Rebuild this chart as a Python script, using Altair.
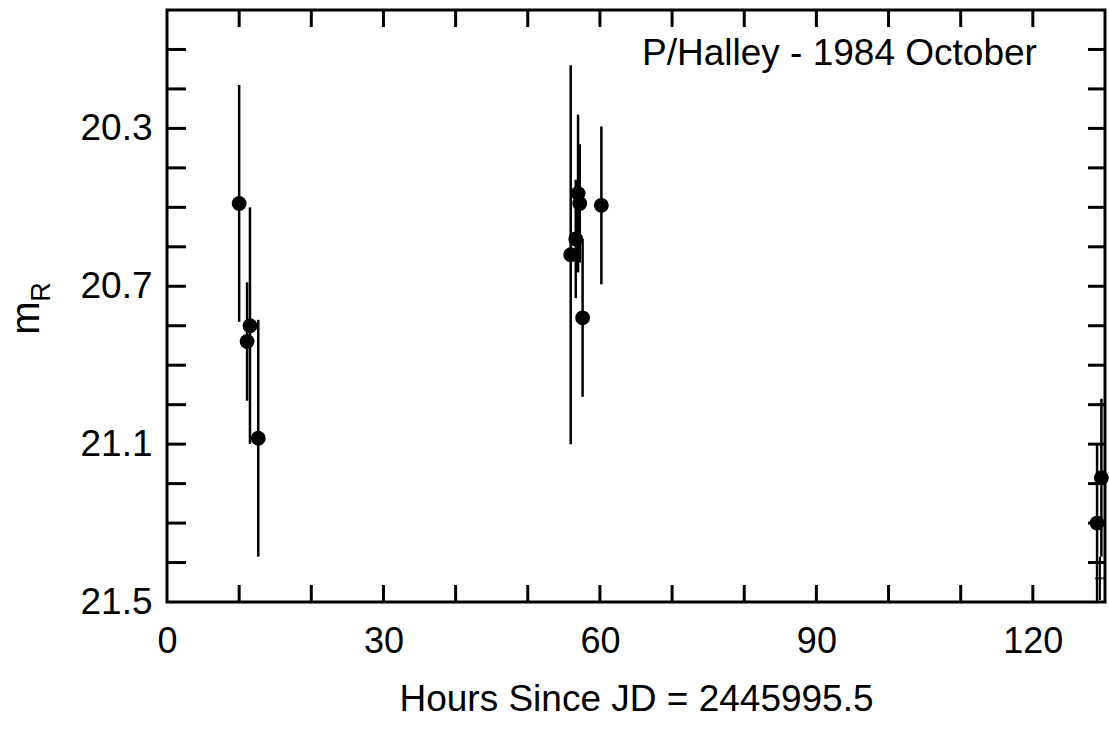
import altair as alt
import pandas as pd

# Data
hours = [10.0, 11.1, 11.5, 12.65, 55.95, 56.65, 56.97, 57.2, 57.6, 60.2, 128.9, 129.5]
mag = [20.49, 20.84, 20.80, 21.085, 20.62, 20.58, 20.465, 20.49, 20.78, 20.495, 21.30, 21.185]
err = [0.30, 0.15, 0.30, 0.30, 0.48, 0.15, 0.20, 0.15, 0.20, 0.20, 0.20, 0.20]

# an extra short error bar (no dot) at the right edge
extra_hours = [129.3]
extra_mag = [21.44]
extra_err = [0.055]

x_labels = [0, 30, 60, 90, 120]
y_labels = [20.3, 20.7, 21.1, 21.5]
x_ticks = [10, 20, 30, 40, 50, 60, 70, 80, 90, 100, 110, 120]
y_ticks = [20.1, 20.2, 20.3, 20.4, 20.5, 20.6, 20.7, 20.8, 20.9, 21.0, 21.1, 21.2, 21.3, 21.4]

W, H = 938, 592
FONT = "Liberation Sans"

df = pd.DataFrame({"h": hours, "m": mag, "e": err})
df["lo"] = df["m"] - df["e"]
df["hi"] = df["m"] + df["e"]
dfx = pd.DataFrame({"h": extra_hours, "m": extra_mag, "e": extra_err})
dfx["lo"] = dfx["m"] - dfx["e"]
dfx["hi"] = dfx["m"] + dfx["e"]

xscale = alt.Scale(domain=[0, 130], nice=False, zero=False)
yscale = alt.Scale(domain=[20.0, 21.5], reverse=True, nice=False, zero=False)

xaxis = alt.Axis(values=x_labels, title="Hours Since JD = 2445995.5", ticks=False, domain=False,
                 grid=False, labelFontSize=36, labelFont=FONT, labelColor="black",
                 labelPadding=22, labelFlush=False, labelOverlap=False,
                 titleFontSize=37, titleFont=FONT, titleFontWeight="normal", titleColor="black",
                 titlePadding=22)
yaxis = alt.Axis(values=y_labels, title=None, format=".1f", ticks=False, domain=False, grid=False,
                 labelFontSize=37, labelFont=FONT, labelColor="black", labelPadding=15,
                 labelFlush=False, labelOverlap=False)

bars = alt.Chart(df).mark_rule(color="black", strokeWidth=2.5).encode(
    x=alt.X("h:Q", scale=xscale, axis=xaxis),
    y=alt.Y("lo:Q", scale=yscale, axis=yaxis),
    y2="hi:Q",
)
bars_x = alt.Chart(dfx).mark_rule(color="black", strokeWidth=2).encode(
    x=alt.X("h:Q", scale=xscale),
    y=alt.Y("lo:Q", scale=yscale),
    y2="hi:Q",
)
cross_x = alt.Chart(dfx).mark_tick(color="black", thickness=2, size=10, orient="horizontal").encode(
    x=alt.X("h:Q", scale=xscale),
    y=alt.Y("m:Q", scale=yscale),
)
pts = alt.Chart(df).mark_circle(color="black", opacity=1, size=220).encode(
    x=alt.X("h:Q", scale=xscale),
    y=alt.Y("m:Q", scale=yscale),
)

xt = pd.DataFrame({"t": x_ticks})
yt = pd.DataFrame({"t": y_ticks})
tick_style = dict(color="black", strokeWidth=3)
xt_bottom = alt.Chart(xt).mark_rule(**tick_style).encode(
    x=alt.X("t:Q", scale=xscale), y=alt.value(H), y2=alt.value(H - 17))
xt_top = alt.Chart(xt).mark_rule(**tick_style).encode(
    x=alt.X("t:Q", scale=xscale), y=alt.value(0), y2=alt.value(17))
yt_left = alt.Chart(yt).mark_rule(**tick_style).encode(
    y=alt.Y("t:Q", scale=yscale), x=alt.value(0), x2=alt.value(19))
yt_right = alt.Chart(yt).mark_rule(**tick_style).encode(
    y=alt.Y("t:Q", scale=yscale), x=alt.value(W), x2=alt.value(W - 17))

title = alt.Chart(pd.DataFrame({"t": ["P/Halley - 1984 October"]})).mark_text(
    font=FONT, fontSize=37, align="left", baseline="alphabetic", color="black"
).encode(text="t:N", x=alt.value(475), y=alt.value(55))

m_lab = alt.Chart(pd.DataFrame({"t": ["m"]})).mark_text(
    font=FONT, fontSize=40, angle=270, align="center", baseline="middle", color="black"
).encode(text="t:N", x=alt.value(-140), y=alt.value(308))
r_lab = alt.Chart(pd.DataFrame({"t": ["R"]})).mark_text(
    font=FONT, fontSize=27, angle=270, align="center", baseline="middle", color="black"
).encode(text="t:N", x=alt.value(-125), y=alt.value(282))

chart = alt.layer(
    bars, bars_x, cross_x, pts, xt_bottom, xt_top, yt_left, yt_right, title, m_lab, r_lab
).properties(
    width=W, height=H,
    background="white",
    autosize=alt.AutoSizeParams(type="none"),
    padding={"left": 167, "top": 10, "right": 4, "bottom": 130},
).configure_view(stroke="black", strokeWidth=3)

chart.save("out.html", embed_options={"renderer": "svg", "actions": False})
